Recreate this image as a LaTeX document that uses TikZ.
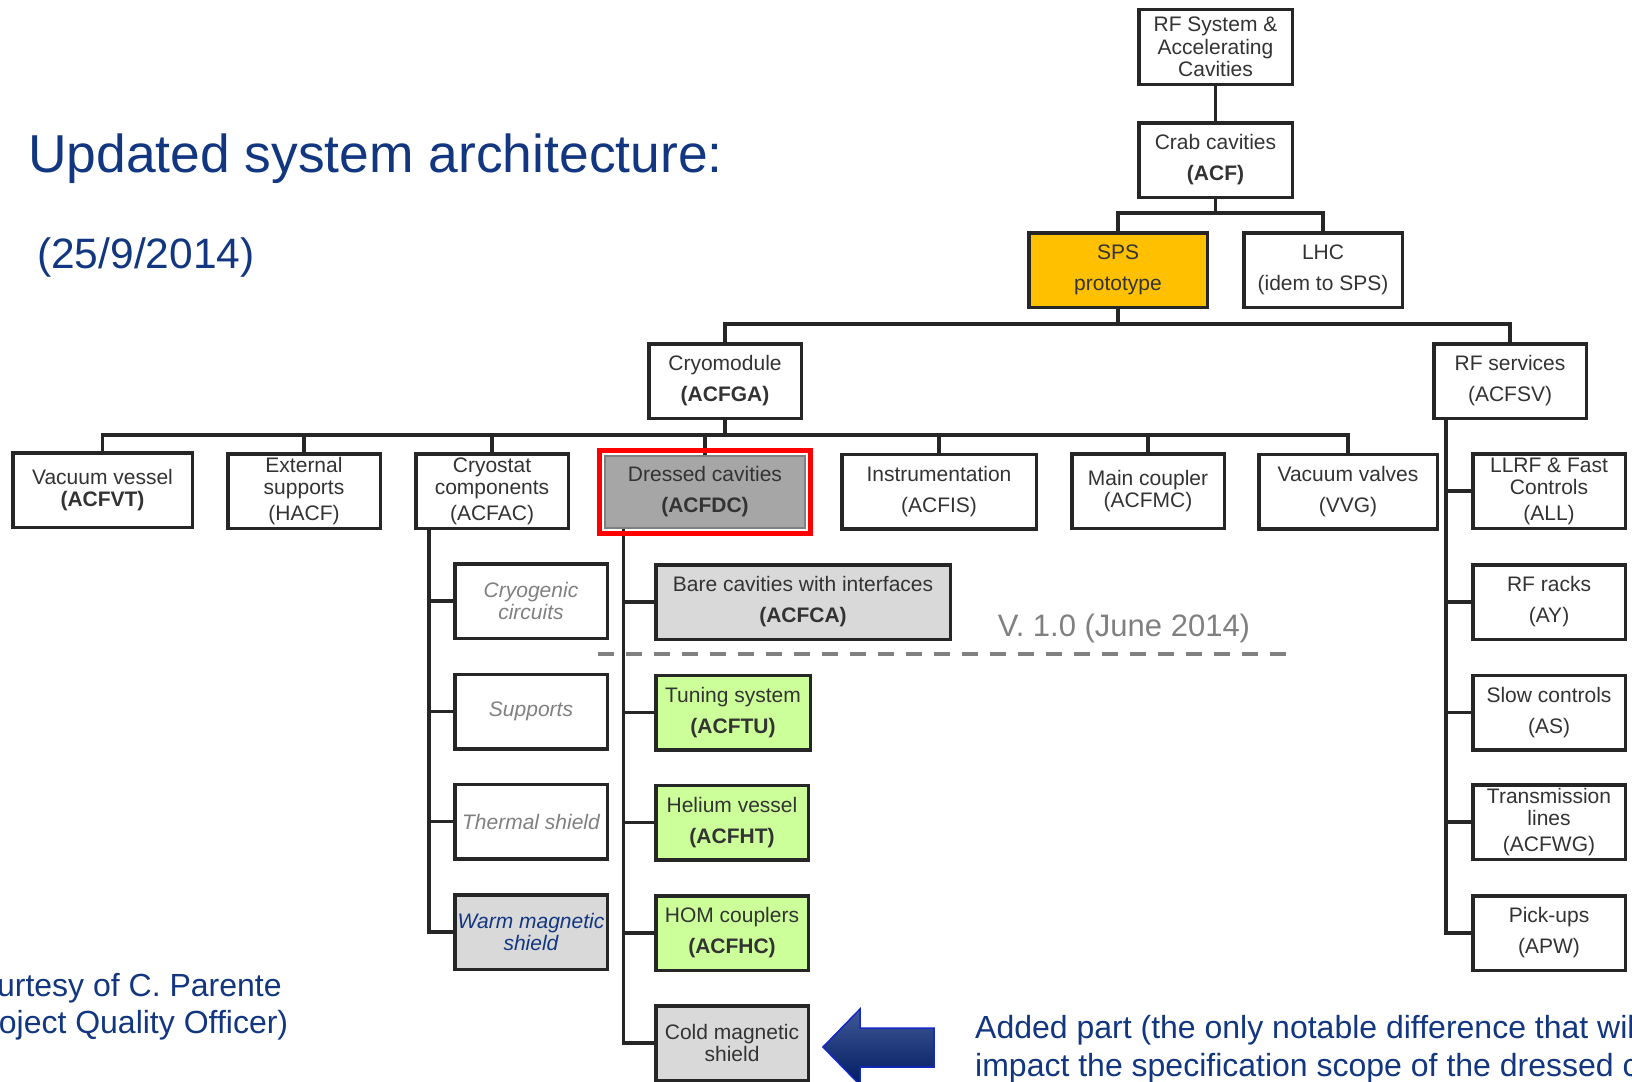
\documentclass[tikz,border=0pt]{standalone}
\usepackage{fontspec}
\setmainfont{Liberation Sans}
\usetikzlibrary{positioning,calc}

\definecolor{linegray}{RGB}{38,38,38}
\definecolor{textgray}{RGB}{51,51,51}
\definecolor{lightfill}{RGB}{217,217,217}
\definecolor{darkfill}{RGB}{166,166,166}
\definecolor{spsorange}{RGB}{255,192,0}
\definecolor{limefill}{RGB}{204,255,153}
\definecolor{slidenavy}{RGB}{18,55,128}
\definecolor{softgray}{RGB}{128,128,128}

\newcommand{\boxfont}{\fontsize{21}{22.5}\selectfont}
\newcommand{\bigfont}{\fontsize{32}{37.5}\selectfont}

\tikzset{
  wbs/.style={draw=linegray, line width=3.5pt, fill=white, text=textgray,
    align=center, minimum width=152.5pt, minimum height=74.5pt,
    inner sep=0pt, font=\boxfont},
  greybox/.style={wbs, fill=lightfill},
  greenbox/.style={wbs, fill=limefill},
  faded/.style={wbs, text=softgray, font=\boxfont\itshape},
  link/.style={draw=linegray, line width=3.5pt},
  slidetext/.style={text=slidenavy, inner sep=0pt}
}

\begin{document}
\begin{tikzpicture}[x=1pt,y=-1pt]
\useasboundingbox[fill=white] (0,0) rectangle (1632,1081);

% title texts
\node[slidetext, anchor=base west, font=\fontsize{53.4}{60}\selectfont] (title) at (28,172) {Updated system architecture:};
\node[slidetext, anchor=base west, font=\fontsize{42.5}{48}\selectfont] (date) at (37,268) {(25/9/2014)};
\node[slidetext, anchor=west, align=left, font=\bigfont] (credit) at (-44,1006.5) {Courtesy of C. Parente\\(Project Quality Officer)};

% top of the tree
\node[wbs, minimum width=153.5pt] (rfsys) at (1215.5,47) {RF System \&\\Accelerating\\Cavities};
\node[wbs, minimum width=153.5pt] (crab) at (1215.5,160) {Crab cavities\\[8.5pt]\textbf{(ACF)}};
\node[wbs, fill=spsorange, minimum width=178.5pt] (sps) at (1118,270) {SPS\\[8.5pt]prototype};
\node[wbs, minimum width=158.5pt] (lhc) at (1323,270) {LHC\\[8.5pt](idem to SPS)};
\node[wbs] (cryo) at (725,381) {Cryomodule\\[8.5pt]\textbf{(ACFGA)}};
\node[wbs] (rfsv) at (1510,381) {RF services\\[8.5pt](ACFSV)};

% cryomodule level
\node[wbs, minimum width=179.5pt] (vv) at (102.5,490) {Vacuum vessel\\\textbf{(ACFVT)}};
\node[wbs] (es) at (304,491) {External\\supports\\[3pt](HACF)};
\node[wbs] (cc) at (492,491) {Cryostat\\components\\[3pt](ACFAC)};
\node[wbs, draw=softgray, line width=2pt, fill=darkfill, minimum width=200pt, minimum height=72pt] (dc) at (705,492) {Dressed cavities\\[8.5pt]\textbf{(ACFDC)}};
\node[wbs, minimum width=194.5pt] (inst) at (939,491.5) {Instrumentation\\[8.5pt](ACFIS)};
\node[wbs] (mc) at (1148,491) {Main coupler\\(ACFMC)};
\node[wbs, minimum width=178.5pt] (vval) at (1348,491.5) {Vacuum valves\\[8.5pt](VVG)};

% cryostat parts
\node[faded] (cryc) at (531,601) {Cryogenic\\circuits};
\node[faded] (sup) at (531,711.5) {Supports};
\node[faded] (ths) at (531,821.5) {Thermal shield};
\node[greybox, text=slidenavy, font=\boxfont\itshape] (wms) at (531,932) {Warm magnetic\\shield};

% dressed cavity parts
\node[greybox, minimum width=294.5pt] (bare) at (803,602) {Bare cavities with interfaces\\[8.5pt]\textbf{(ACFCA)}};
\node[greenbox, minimum width=154.5pt] (tun) at (733,712.5) {Tuning system\\[8.5pt]\textbf{(ACFTU)}};
\node[greenbox] (hev) at (732,822.5) {Helium vessel\\[8.5pt]\textbf{(ACFHT)}};
\node[greenbox] (hom) at (732,933) {HOM couplers\\[8.5pt]\textbf{(ACFHC)}};
\node[greybox] (cms) at (732,1043) {Cold magnetic\\shield};

% rf services parts
\node[wbs] (llrf) at (1549,491) {LLRF \& Fast\\Controls\\[3pt](ALL)};
\node[wbs] (rack) at (1549,602) {RF racks\\[8.5pt](AY)};
\node[wbs] (slow) at (1549,712.5) {Slow controls\\[8.5pt](AS)};
\node[wbs] (trl) at (1549,822) {Transmission\\lines\\[3pt](ACFWG)};
\node[wbs] (pick) at (1549,933) {Pick-ups\\[8.5pt](APW)};

% buses
\coordinate (bus1) at (0,213);
\coordinate (bus2) at (0,324);
\coordinate (bus3) at (0,435);
\draw[link] (rfsys) -- (crab);
\draw[link] (crab.south) -- (crab.south |- bus1);
\draw[link] (sps.north) |- (lhc.north |- bus1) -- (lhc.north);
\draw[link] (sps.south) -- (sps.south |- bus2);
\draw[link] (cryo.north) |- (rfsv.north |- bus2) -- (rfsv.north);
\draw[link] (cryo.south) -- (cryo.south |- bus3);
\draw[link] (vv.north) |- (vval.north |- bus3) -- (vval.north);
\foreach \n in {es,cc,dc,inst,mc}
  \draw[link] (\n.north) -- (\n.north |- bus3);

% trunks
\coordinate (cctrunk) at ([xshift=15pt]cc.south west);
\coordinate (dctrunk) at ([xshift=19.5pt]dc.south west);
\coordinate (rftrunk) at ([xshift=14pt]rfsv.south west);
\foreach \n in {cryc,sup,ths,wms}
  \draw[link] (cctrunk) |- (\n.west);
\foreach \n in {bare,tun,hev,hom,cms}
  \draw[link] (dctrunk) |- (\n.west);
\foreach \n in {llrf,rack,slow,trl,pick}
  \draw[link] (rftrunk) |- (\n.west);

% highlight of the dressed cavities
\draw[red, line width=5pt] ([shift={(-4.5pt,4.5pt)}]dc.north west) rectangle ([shift={(4.5pt,-4.5pt)}]dc.south east);

% version limit
\draw[softgray, line width=4pt, dash pattern=on 16pt off 12pt] (598,653.5) -- (1291,653.5);
\node[text=softgray, inner sep=0pt, anchor=base, font=\fontsize{31}{36}\selectfont] (ver) at (1124,636) {V. 1.0 (June 2014)};

% added part arrow
\shade[top color={rgb,255:red,64;green,88;blue,150}, bottom color={rgb,255:red,0;green,28;blue,96}, draw={rgb,255:red,20;green,40;blue,200}, line width=1.5pt]
  (823,1047) -- (860,1009) -- (860,1028) -- (934,1028) -- (934,1067) -- (860,1067) -- (860,1085) -- cycle;
\node[slidetext, anchor=west, align=left, font=\bigfont] (added) at (975,1049) {Added part (the only notable difference that will\\impact the specification scope of the dressed cavities)};
\end{tikzpicture}
\end{document}
